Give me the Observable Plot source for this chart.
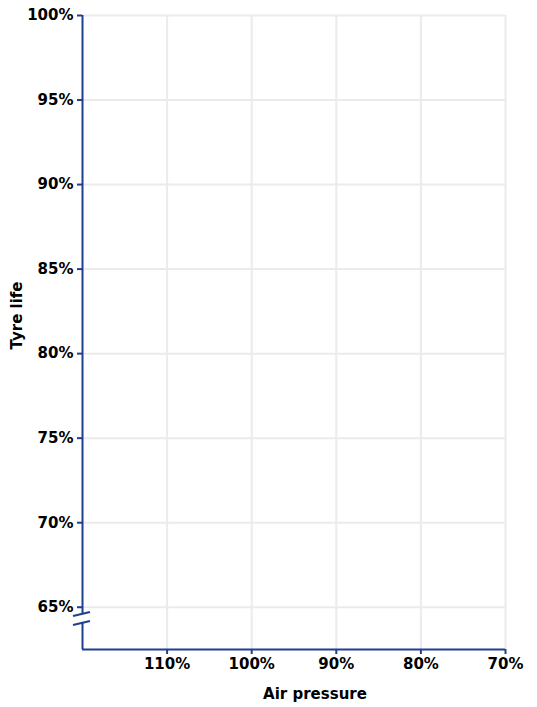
<!DOCTYPE html>
<html>
<head>
<meta charset="utf-8">
<script src="https://cdn.jsdelivr.net/npm/d3@7"></script>
<script src="https://cdn.jsdelivr.net/npm/@observablehq/plot@0.6"></script>
<style>
  html, body { margin: 0; padding: 0; background: #fff; }
  #chart svg { display: block; }
</style>
</head>
<body>
<div id="chart"></div>
<script>
// Axis domains and tick values (chart has no data series plotted)
const xDomain = [120, 70];          // Air pressure, reversed
const yDomain = [62.5, 100];        // Tyre life
const xTicks = [110, 100, 90, 80, 70];
const yTicks = [65, 70, 75, 80, 85, 90, 95, 100];
const yBreak = 64.3;                // axis break position
const xLabel = "Air pressure";
const yLabel = "Tyre life";

const axisColor = "#1f3f8f";
const gridColor = "#ebebeb";

function breakMark() {
  return (index, scales) => {
    const x0 = scales.x(xDomain[0]);
    const yb = scales.y(yBreak);
    const g = d3.create("svg:g");
    g.append("line").attr("x1", x0).attr("x2", x0)
      .attr("y1", yb - 4.5).attr("y2", yb + 4.5)
      .attr("stroke", "#fff").attr("stroke-width", 4);
    for (const off of [-4.5, 4.5]) {
      g.append("line")
        .attr("x1", x0 - 9).attr("y1", yb + off + 2)
        .attr("x2", x0 + 8).attr("y2", yb + off - 2)
        .attr("stroke", axisColor).attr("stroke-width", 2);
    }
    return g.node();
  };
}

const chart = Plot.plot({
  width: 537,
  height: 707,
  marginLeft: 82,
  marginRight: 32,
  marginTop: 15,
  marginBottom: 58,
  style: {fontFamily: "'DejaVu Sans', sans-serif", fontSize: "15px", fontWeight: "bold", color: "#000", background: "#fff"},
  x: {domain: xDomain, ticks: xTicks},
  y: {domain: yDomain, ticks: yTicks},
  marks: [
    Plot.gridX(xTicks, {stroke: gridColor, strokeOpacity: 1, strokeWidth: 2}),
    Plot.gridY(yTicks, {stroke: gridColor, strokeOpacity: 1, strokeWidth: 2}),
    Plot.axisX(xTicks, {tickFormat: d => d + "%", tickSize: 5, tickPadding: 4, stroke: axisColor, fill: "#000", strokeWidth: 2, label: null}),
    Plot.axisY(yTicks, {tickFormat: d => d + "%", tickSize: 5, tickPadding: 4, stroke: axisColor, fill: "#000", strokeWidth: 2, label: null}),
    Plot.ruleX([xDomain[0]], {y1: yDomain[0], y2: yDomain[1], stroke: axisColor, strokeWidth: 2}),
    Plot.ruleY([yDomain[0]], {x1: xDomain[0], x2: xDomain[1], stroke: axisColor, strokeWidth: 2}),
    breakMark(),
    Plot.text([xLabel], {frameAnchor: "bottom", text: d => d, dx: 21, dy: 45, lineAnchor: "middle", textAnchor: "middle", fill: "#000"}),
    Plot.text([yLabel], {frameAnchor: "left", text: d => d, rotate: -90, dx: -65, dy: -17, lineAnchor: "middle", textAnchor: "middle", fill: "#000"})
  ]
});
document.getElementById("chart").appendChild(chart);
</script>
</body>
</html>
